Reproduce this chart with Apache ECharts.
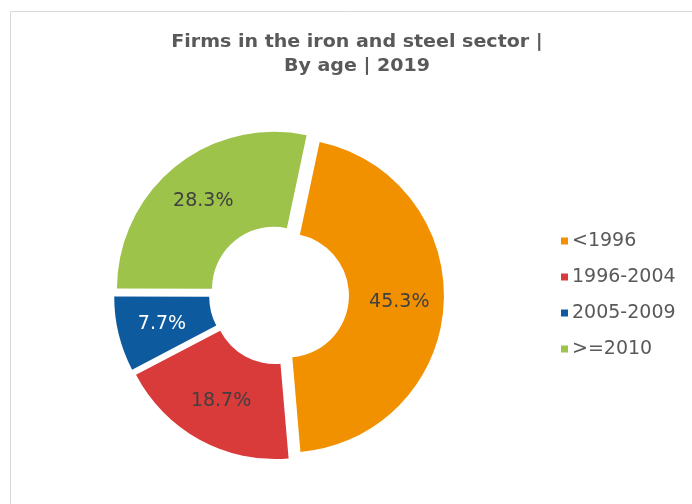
<!DOCTYPE html>
<html>
<head>
<meta charset="utf-8">
<script src="https://cdn.jsdelivr.net/npm/echarts@6/dist/echarts.min.js"></script>
<style>
  html, body { margin: 0; padding: 0; background: #ffffff; }
  #chart { width: 692px; height: 504px; }
</style>
</head>
<body>
<div id="chart"></div>
<script>
// Firms in the iron and steel sector by year of establishment, 2019 (% of firms)
const ageGroups = ['<1996', '1996-2004', '2005-2009', '>=2010'];
const shares = [45.3, 18.7, 7.7, 28.3];
const sliceColors = ['#F29100', '#D93A3A', '#0E5A9E', '#9DC34A'];
const labelColors = ['#404040', '#404040', '#ffffff', '#404040'];
const titleLines = ['Firms in the iron and steel sector |', 'By age | 2019'];

const chart = echarts.init(document.getElementById('chart'), null, { renderer: 'canvas' });

const fontFamily = '"DejaVu Sans", Verdana, sans-serif';

chart.setOption({
  backgroundColor: '#ffffff',
  animation: false,
  graphic: [
    {
      type: 'rect',
      shape: { x: 10.5, y: 11.5, width: 700, height: 520 },
      style: { fill: 'none', stroke: '#d9d9d9', lineWidth: 1 },
      silent: true
    },
    {
      // wide bold heading, stretched slightly around its centre line
      type: 'text',
      x: 357,
      y: 31,
      scaleX: 1.12,
      style: {
        text: titleLines.join('\n'),
        font: 'bold 17px ' + fontFamily,
        fill: '#595959',
        align: 'center',
        lineHeight: 24
      },
      silent: true
    }
  ],
  legend: {
    orient: 'vertical',
    left: 556,
    top: 226,
    icon: 'rect',
    itemWidth: 7,
    itemHeight: 7,
    itemGap: 16,
    selectedMode: false,
    data: ageGroups,
    textStyle: {
      color: '#595959',
      fontSize: 19,
      fontFamily: fontFamily,
      lineHeight: 20,
      padding: [0, 0, 0, -1]
    }
  },
  series: [
    {
      type: 'pie',
      center: [279, 295],
      radius: [62, 157],
      startAngle: 78,
      clockwise: true,
      selectedMode: 'multiple',
      selectedOffset: 8,
      silent: true,
      label: {
        show: true,
        position: 'inside',
        formatter: p => p.value.toFixed(1) + '%',
        fontSize: 19,
        fontFamily: fontFamily
      },
      labelLine: { show: false },
      itemStyle: { borderWidth: 0 },
      data: ageGroups.map((name, i) => ({
        name: name,
        value: shares[i],
        selected: true,
        itemStyle: { color: sliceColors[i] },
        label: { color: labelColors[i] }
      }))
    }
  ]
});
</script>
</body>
</html>
